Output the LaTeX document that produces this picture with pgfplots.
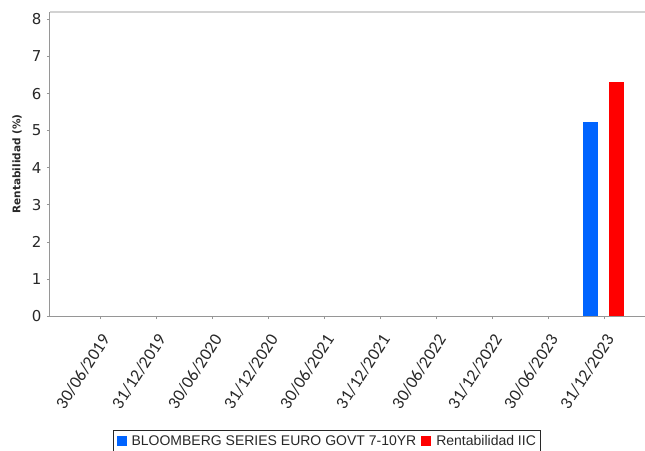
\documentclass[border=0pt]{standalone}
\usepackage{fontspec}
\setmainfont{DejaVu Sans}
\newfontfamily\carlito{Carlito}
\newfontfamily\libsans{Liberation Sans}
\usepackage{pgfplots}
\pgfplotsset{compat=1.18}
\definecolor{bbblue}{RGB}{0,100,255}
\definecolor{iicred}{RGB}{255,0,0}
\definecolor{axgray}{RGB}{150,150,150}
\definecolor{txt}{RGB}{40,40,40}

\begin{document}
\begin{tikzpicture}[x=1pt,y=1pt]
\useasboundingbox (0,0) rectangle (645,450);
\begin{axis}[
    at={(50pt,134pt)}, anchor=south west,
    scale only axis, width=595pt, height=304pt,
    xmin=-0.89, xmax=9.73, ymin=0, ymax=8.2,
    xtick={0,...,9},
    xticklabels={30/06/2019,31/12/2019,30/06/2020,31/12/2020,30/06/2021,31/12/2021,30/06/2022,31/12/2022,30/06/2023,31/12/2023},
    ytick={0,...,8},
    axis x line*=bottom, axis y line*=left,
    axis line style={axgray, line width=1pt, -},
    tick align=outside, major tick length=3pt,
    tick style={axgray, line width=0.6pt},
    /pgf/number format/assume math mode=true,
    yticklabel style={font=\fontsize{15}{16}\selectfont, text=txt, xshift=-2pt},
    xticklabel style={xshift=6pt, yshift=-17pt, rotate=57, anchor=east, inner sep=0pt, font=\carlito\fontsize{17.5}{18}\selectfont, text=txt},
    ylabel={Rentabilidad (\%)},
    ylabel style={font=\fontsize{10.5}{12}\selectfont\bfseries, text=txt, at={(axis description cs:-0.0555,0.5)}, anchor=center},
    legend columns=2,
    legend style={at={(axis description cs:0.106,-0.375)}, anchor=north west,
        draw=txt, line width=1pt, inner xsep=3pt, inner ysep=3pt,
        font=\libsans\fontsize{14}{16}\selectfont, text=txt,
        /tikz/every even column/.append style={column sep=3pt}},
    legend image code/.code={\fill[#1, draw=none] (0pt,-5pt) rectangle (10pt,5pt); \path (13pt,0pt);},
    clip=false,
]
\addplot[ybar, bar width=15pt, bar shift=-14pt, fill=bbblue, draw=none] coordinates {(9,5.24)};
\addplot[ybar, bar width=15pt, bar shift=12pt, fill=iicred, draw=none] coordinates {(9,6.32)};
\legend{BLOOMBERG SERIES EURO GOVT 7-10YR, Rentabilidad IIC}
\draw[gray!35, line width=1.5pt] (rel axis cs:0,1) -- (rel axis cs:1,1);
\end{axis}
\end{tikzpicture}
\end{document}
